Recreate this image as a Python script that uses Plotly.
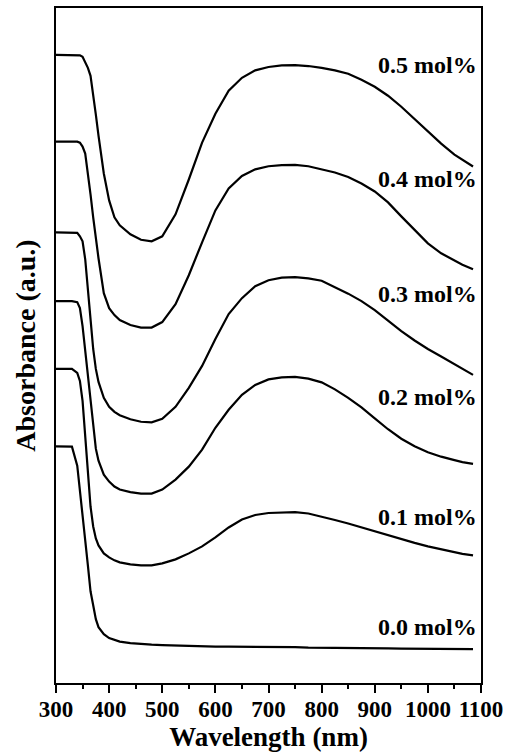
import plotly.graph_objects as go

wavelength = [300, 330, 340, 345, 350, 355, 360, 365, 370, 375, 380, 390, 400, 410, 420,
              440, 460, 480, 500, 525, 550, 575, 600, 625, 650, 675, 700, 725, 750, 775,
              800, 825, 850, 875, 900, 925, 950, 975, 1000, 1025, 1050, 1065, 1085]

abs_05 = [6.30, 6.30, 6.295, 6.295, 6.28, 6.23, 6.17, 6.09, 5.91, 5.70, 5.49, 5.11, 4.84, 4.67, 4.59,
          4.50, 4.445, 4.43, 4.48, 4.70, 5.05, 5.42, 5.71, 5.94, 6.07, 6.145, 6.178, 6.194, 6.197, 6.188,
          6.17, 6.145, 6.11, 6.05, 5.98, 5.89, 5.78, 5.655, 5.53, 5.41, 5.30, 5.245, 5.18]
abs_04 = [5.43, 5.43, 5.43, 5.42, 5.38, 5.31, 5.13, 4.90, 4.67, 4.45, 4.26, 3.91, 3.76, 3.69, 3.64,
          3.59, 3.565, 3.565, 3.62, 3.80, 4.09, 4.42, 4.74, 4.96, 5.085, 5.152, 5.183, 5.195, 5.197, 5.183,
          5.155, 5.12, 5.075, 5.01, 4.93, 4.82, 4.68, 4.54, 4.41, 4.31, 4.235, 4.195, 4.15]
abs_03 = [4.52, 4.52, 4.515, 4.48, 4.43, 4.25, 3.98, 3.65, 3.35, 3.15, 3.02, 2.86, 2.77, 2.72, 2.685,
          2.645, 2.62, 2.615, 2.65, 2.77, 2.96, 3.18, 3.45, 3.70, 3.86, 3.98, 4.04, 4.065, 4.07, 4.058,
          4.035, 3.97, 3.905, 3.83, 3.74, 3.635, 3.53, 3.435, 3.35, 3.275, 3.20, 3.15, 3.09]
abs_02 = [3.83, 3.83, 3.82, 3.76, 3.58, 3.33, 3.05, 2.80, 2.55, 2.35, 2.23, 2.09, 2.02, 1.97, 1.94,
          1.915, 1.90, 1.90, 1.94, 2.04, 2.17, 2.34, 2.56, 2.74, 2.89, 2.99, 3.045, 3.065, 3.07, 3.053,
          3.015, 2.945, 2.86, 2.764, 2.655, 2.545, 2.45, 2.375, 2.315, 2.27, 2.235, 2.215, 2.197]
abs_01 = [3.15, 3.15, 3.11, 3.03, 2.83, 2.45, 2.05, 1.77, 1.57, 1.45, 1.38, 1.30, 1.26, 1.23, 1.21,
          1.19, 1.18, 1.18, 1.20, 1.24, 1.30, 1.37, 1.46, 1.56, 1.64, 1.685, 1.705, 1.712, 1.713, 1.70,
          1.67, 1.635, 1.60, 1.56, 1.52, 1.48, 1.44, 1.405, 1.37, 1.34, 1.31, 1.295, 1.28]
abs_00 = [2.373, 2.37, 2.18, 1.95, 1.69, 1.43, 1.18, 0.92, 0.78, 0.64, 0.56, 0.49, 0.45, 0.43, 0.415,
          0.40, 0.39, 0.385, 0.38, 0.375, 0.37, 0.37, 0.365, 0.365, 0.365, 0.36, 0.36, 0.36, 0.36, 0.355,
          0.355, 0.353, 0.35, 0.35, 0.35, 0.348, 0.345, 0.345, 0.345, 0.342, 0.34, 0.34, 0.34]

series_labels = ["0.5 mol%", "0.4 mol%", "0.3 mol%", "0.2 mol%", "0.1 mol%", "0.0 mol%"]
series_values = [abs_05, abs_04, abs_03, abs_02, abs_01, abs_00]
label_y = [6.20, 5.05, 3.90, 2.87, 1.66, 0.56]
label_x = 1096

tick_vals = [300, 400, 500, 600, 700, 800, 900, 1000, 1100]
tick_text = ["300", "400", "500", "600", "700", "800", "900", "1000", "1100"]

FONT = "Liberation Serif"

fig = go.Figure()
for name, vals in zip(series_labels, series_values):
    fig.add_trace(go.Scatter(x=wavelength, y=vals, mode="lines", name=name,
                             line=dict(color="black", width=2.2),
                             showlegend=False))

for name, yv in zip(series_labels, label_y):
    fig.add_annotation(x=label_x, y=yv, text=name, showarrow=False, xanchor="right", yanchor="middle",
                       font=dict(family=FONT, size=24, color="black", weight="bold"))

fig.update_layout(
    width=509, height=753,
    margin=dict(l=56, r=26, t=6, b=70),
    paper_bgcolor="white", plot_bgcolor="white",
    font=dict(family=FONT, color="black"),
)
fig.update_xaxes(
    range=[300, 1100], tickmode="array", tickvals=tick_vals, ticktext=tick_text,
    ticks="outside", ticklen=8, tickwidth=1.5, tickcolor="black", ticklabelstandoff=-3,
    minor=dict(dtick=50, tick0=300, ticks="outside", ticklen=4, tickwidth=1.5, tickcolor="black"),
    showline=True, linecolor="black", linewidth=1.5, mirror=True, showgrid=False, zeroline=False,
    tickfont=dict(family=FONT, size=23, color="black", weight="bold"),
    title=dict(text="Wavelength (nm)", standoff=3,
               font=dict(family=FONT, size=27, color="black", weight="bold")),
)
fig.update_yaxes(
    range=[0, 6.77], showticklabels=False, ticks="",
    showline=True, linecolor="black", linewidth=1.5, mirror=True, showgrid=False, zeroline=False,
    title=dict(text="Absorbance (a.u.)", standoff=10,
               font=dict(family=FONT, size=28, color="black", weight="bold")),
)

fig.write_html("out.html")
